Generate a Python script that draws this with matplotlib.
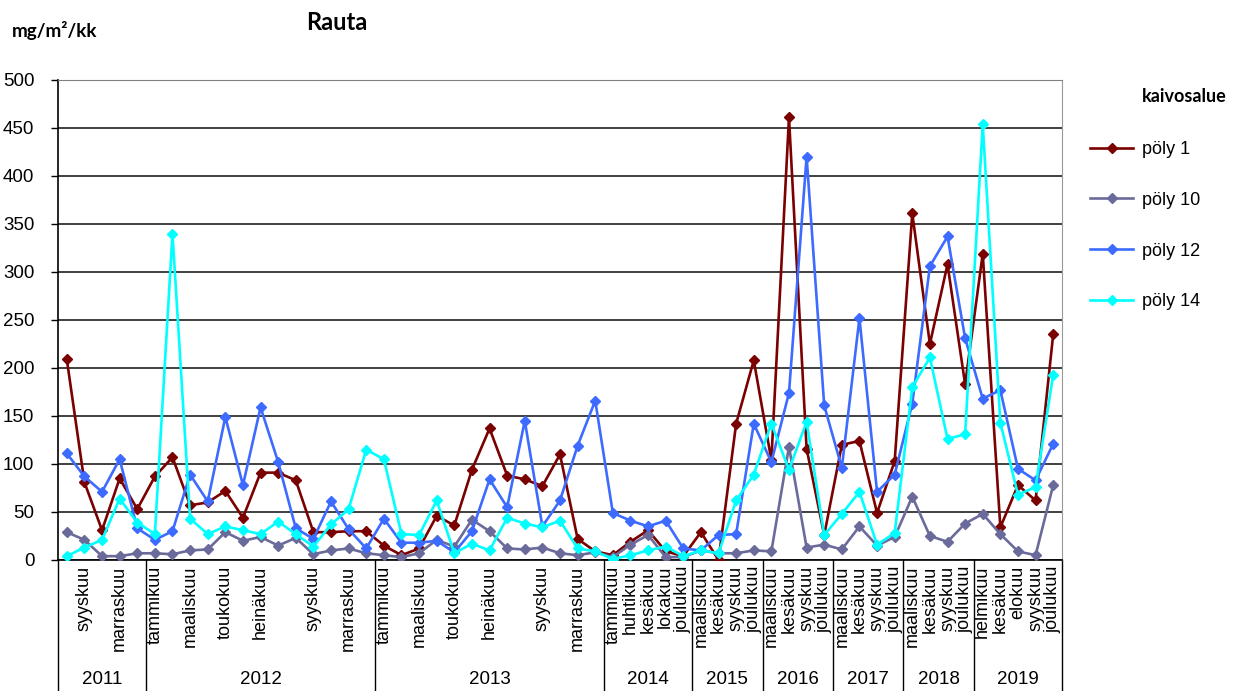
import numpy as np
import matplotlib
matplotlib.use("Agg")
import matplotlib.pyplot as plt
import matplotlib.transforms as mtransforms

plt.rcParams['font.family'] = ['Liberation Sans', 'DejaVu Sans']

# month labels per year (blank = no label shown)
years = ['2011', '2012', '2013', '2014', '2015', '2016', '2017', '2018', '2019']
months = [
    ['', 'syyskuu', '', 'marraskuu', ''],
    ['tammikuu', '', 'maaliskuu', '', 'toukokuu', '', 'heinäkuu', '', '', 'syyskuu', '', 'marraskuu', ''],
    ['tammikuu', '', 'maaliskuu', '', 'toukokuu', '', 'heinäkuu', '', '', 'syyskuu', '', 'marraskuu', ''],
    ['tammikuu', 'huhtikuu', 'kesäkuu', 'lokakuu', 'joulukuu'],
    ['maaliskuu', 'kesäkuu', 'syyskuu', 'joulukuu'],
    ['maaliskuu', 'kesäkuu', 'syyskuu', 'joulukuu'],
    ['maaliskuu', 'kesäkuu', 'syyskuu', 'joulukuu'],
    ['maaliskuu', 'kesäkuu', 'syyskuu', 'joulukuu'],
    ['helmikuu', 'kesäkuu', 'elokuu', 'syyskuu', 'joulukuu'],
]

# iron deposition, mg/m2/kk
poly1 = [209, 81, 31, 85, 53,
         87, 107, 57, 60, 72, 44, 91, 91, 83, 29, 29, 30, 30,
         15, 5, 12, 46, 36, 94, 137, 88, 84, 77, 110, 22, 9,
         5, 19, 31, 9, 4,
         29, 0, 142, 208,
         104, 461, 116, 26,
         120, 124, 49, 103,
         361, 225, 308, 183,
         319, 34, 78, 62, 235]
poly10 = [29, 21, 4, 4, 7,
          7, 6, 10, 11, 29, 20, 24, 15, 23, 6, 10, 12, 7,
          5, 3, 7, 21, 14, 42, 30, 12, 11, 13, 7, 5, 8,
          3, 16, 26, 3, 3,
          10, 7, 7, 10,
          9, 118, 13, 16,
          11, 35, 15, 24,
          66, 25, 19, 38,
          48, 27, 9, 5, 78]
poly12 = [111, 87, 71, 105, 33,
          21, 30, 89, 61, 149, 78, 159, 102, 33, 22, 61, 32, 12,
          43, 18, 18, 20, 8, 30, 84, 55, 145, 35, 62, 119, 166,
          49, 41, 35, 41, 12,
          10, 26, 27, 142,
          102, 174, 420, 161,
          96, 252, 71, 89,
          163, 306, 337, 231,
          168, 177, 95, 83, 121]
poly14 = [4, 13, 21, 64, 39,
          27, 340, 43, 27, 35, 31, 27, 40, 27, 14, 37, 53, 115,
          105, 27, 26, 62, 7, 17, 10, 44, 38, 34, 41, 12, 9,
          1, 5, 10, 14, 4,
          10, 7, 62, 89,
          142, 94, 144, 26,
          48, 71, 16, 28,
          180, 211, 126, 131,
          454, 143, 68, 76, 193]

series = [('pöly 1', poly1, '#7b0000'),
          ('pöly 10', poly10, '#6b6b9b'),
          ('pöly 12', poly12, '#3d6bff'),
          ('pöly 14', poly14, '#00ffff')]

labels = [m for grp in months for m in grp]
x = np.arange(len(labels))

fig = plt.figure(figsize=(12.47, 6.91), dpi=100)
ax = fig.add_axes([58 / 1247, 1 - 560 / 691, 1004 / 1247, 480 / 691])

for name, vals, col in series:
    ax.plot(x, vals, color=col, lw=1.9, marker='D', markersize=5.5,
            markeredgecolor=col, label=name, zorder=3)

ax.set_xlim(-0.5, len(labels) - 0.5)
ax.set_ylim(0, 500)
ax.set_yticks(np.arange(0, 501, 50))
ax.tick_params(axis='y', labelsize=13.5, length=5, width=1, direction='out', pad=12)
ax.set_xticks(x)
ax.set_xticklabels(labels, rotation=90, fontsize=13)
ax.tick_params(axis='x', length=0, pad=4)

ax.yaxis.grid(True, color='#303030', lw=1.3)
ax.set_axisbelow(True)
for side in ['left', 'bottom']:
    ax.spines[side].set_color('black')
    ax.spines[side].set_linewidth(1.2)
ax.spines['top'].set_color('#808080')
ax.spines['right'].set_color('#999999')

# year group separators and labels below the month labels
trans = mtransforms.blended_transform_factory(ax.transData, ax.transAxes)
bounds = np.cumsum([0] + [len(g) for g in months])
for b in bounds:
    ax.plot([b - 0.5, b - 0.5], [0, -0.28], transform=trans, color='black',
            lw=1, clip_on=False)
for yr, b0, b1 in zip(years, bounds[:-1], bounds[1:]):
    ax.text((b0 + b1 - 1) / 2, -0.25, yr, transform=trans, ha='center',
            va='center', fontsize=13.5)

fig.text(12 / 1247, 1 - 30 / 691, 'mg/m²/kk', fontsize=13.5, fontweight='bold',
         family='Lato', va='center')
fig.text(337 / 1247, 1 - 22 / 691, 'Rauta', fontsize=17, fontweight='bold',
         family='Lato', ha='center', va='center')
fig.text(1184 / 1247, 1 - 96 / 691, 'kaivosalue', fontsize=13, fontweight='bold',
         family='Lato', ha='center', va='center')

fig.legend(loc='upper left', bbox_to_anchor=(1090 / 1247, 1 - 141 / 691),
           frameon=False, fontsize=13, borderpad=0, labelspacing=1.87,
           handlelength=2.4, handletextpad=0.5, borderaxespad=0, numpoints=1)

fig.savefig('out.png', dpi=100)
